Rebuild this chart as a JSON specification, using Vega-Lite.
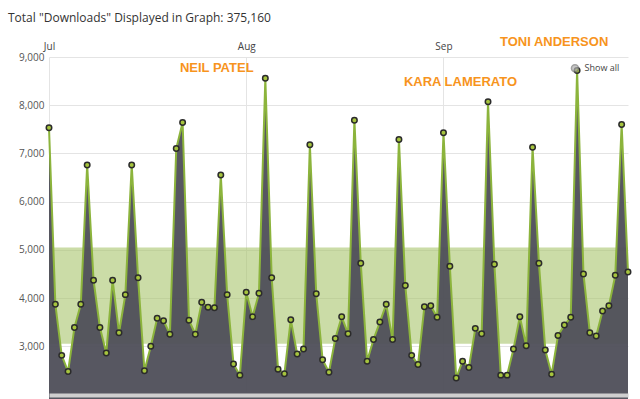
{
  "$schema": "https://vega.github.io/schema/vega-lite/v6.json",
  "width": 579,
  "height": 335,
  "autosize": {"type": "none"},
  "padding": {"left": 49, "top": 57, "right": 12, "bottom": 7},
  "background": "white",
  "title": {
    "text": "Total \"Downloads\" Displayed in Graph: 375,160",
    "anchor": "start",
    "frame": "group",
    "dx": -41,
    "offset": 11,
    "font": "Open Sans",
    "fontSize": 12,
    "fontWeight": "normal",
    "color": "#333333"
  },
  "config": {"view": {"stroke": null}, "font": "Open Sans"},
  "datasets": {
    "downloads": [
      {"date": "2015-07-01T00:00:00", "downloads": 7530},
      {"date": "2015-07-02T00:00:00", "downloads": 3870},
      {"date": "2015-07-03T00:00:00", "downloads": 2810},
      {"date": "2015-07-04T00:00:00", "downloads": 2475},
      {"date": "2015-07-05T00:00:00", "downloads": 3390},
      {"date": "2015-07-06T00:00:00", "downloads": 3870},
      {"date": "2015-07-07T00:00:00", "downloads": 6760},
      {"date": "2015-07-08T00:00:00", "downloads": 4370},
      {"date": "2015-07-09T00:00:00", "downloads": 3390},
      {"date": "2015-07-10T00:00:00", "downloads": 2860},
      {"date": "2015-07-11T00:00:00", "downloads": 4370},
      {"date": "2015-07-12T00:00:00", "downloads": 3280},
      {"date": "2015-07-13T00:00:00", "downloads": 4070},
      {"date": "2015-07-14T00:00:00", "downloads": 6760},
      {"date": "2015-07-15T00:00:00", "downloads": 4420},
      {"date": "2015-07-16T00:00:00", "downloads": 2490},
      {"date": "2015-07-17T00:00:00", "downloads": 3000},
      {"date": "2015-07-18T00:00:00", "downloads": 3580},
      {"date": "2015-07-19T00:00:00", "downloads": 3530},
      {"date": "2015-07-20T00:00:00", "downloads": 3250},
      {"date": "2015-07-21T00:00:00", "downloads": 7100},
      {"date": "2015-07-22T00:00:00", "downloads": 7640},
      {"date": "2015-07-23T00:00:00", "downloads": 3540},
      {"date": "2015-07-24T00:00:00", "downloads": 3250},
      {"date": "2015-07-25T00:00:00", "downloads": 3910},
      {"date": "2015-07-26T00:00:00", "downloads": 3810},
      {"date": "2015-07-27T00:00:00", "downloads": 3800},
      {"date": "2015-07-28T00:00:00", "downloads": 6550},
      {"date": "2015-07-29T00:00:00", "downloads": 4070},
      {"date": "2015-07-30T00:00:00", "downloads": 2630},
      {"date": "2015-07-31T00:00:00", "downloads": 2400},
      {"date": "2015-08-01T00:00:00", "downloads": 4120},
      {"date": "2015-08-02T00:00:00", "downloads": 3610},
      {"date": "2015-08-03T00:00:00", "downloads": 4100},
      {"date": "2015-08-04T00:00:00", "downloads": 8560},
      {"date": "2015-08-05T00:00:00", "downloads": 4420},
      {"date": "2015-08-06T00:00:00", "downloads": 2520},
      {"date": "2015-08-07T00:00:00", "downloads": 2430},
      {"date": "2015-08-08T00:00:00", "downloads": 3550},
      {"date": "2015-08-09T00:00:00", "downloads": 2840},
      {"date": "2015-08-10T00:00:00", "downloads": 2940},
      {"date": "2015-08-11T00:00:00", "downloads": 7180},
      {"date": "2015-08-12T00:00:00", "downloads": 4090},
      {"date": "2015-08-13T00:00:00", "downloads": 2720},
      {"date": "2015-08-14T00:00:00", "downloads": 2460},
      {"date": "2015-08-15T00:00:00", "downloads": 3160},
      {"date": "2015-08-16T00:00:00", "downloads": 3610},
      {"date": "2015-08-17T00:00:00", "downloads": 3260},
      {"date": "2015-08-18T00:00:00", "downloads": 7690},
      {"date": "2015-08-19T00:00:00", "downloads": 4720},
      {"date": "2015-08-20T00:00:00", "downloads": 2690},
      {"date": "2015-08-21T00:00:00", "downloads": 3140},
      {"date": "2015-08-22T00:00:00", "downloads": 3500},
      {"date": "2015-08-23T00:00:00", "downloads": 3870},
      {"date": "2015-08-24T00:00:00", "downloads": 3140},
      {"date": "2015-08-25T00:00:00", "downloads": 7290},
      {"date": "2015-08-26T00:00:00", "downloads": 4260},
      {"date": "2015-08-27T00:00:00", "downloads": 2810},
      {"date": "2015-08-28T00:00:00", "downloads": 2620},
      {"date": "2015-08-29T00:00:00", "downloads": 3820},
      {"date": "2015-08-30T00:00:00", "downloads": 3840},
      {"date": "2015-08-31T00:00:00", "downloads": 3600},
      {"date": "2015-09-01T00:00:00", "downloads": 7430},
      {"date": "2015-09-02T00:00:00", "downloads": 4660},
      {"date": "2015-09-03T00:00:00", "downloads": 2340},
      {"date": "2015-09-04T00:00:00", "downloads": 2690},
      {"date": "2015-09-05T00:00:00", "downloads": 2560},
      {"date": "2015-09-06T00:00:00", "downloads": 3370},
      {"date": "2015-09-07T00:00:00", "downloads": 3260},
      {"date": "2015-09-08T00:00:00", "downloads": 8070},
      {"date": "2015-09-09T00:00:00", "downloads": 4700},
      {"date": "2015-09-10T00:00:00", "downloads": 2400},
      {"date": "2015-09-11T00:00:00", "downloads": 2400},
      {"date": "2015-09-12T00:00:00", "downloads": 2940},
      {"date": "2015-09-13T00:00:00", "downloads": 3610},
      {"date": "2015-09-14T00:00:00", "downloads": 3010},
      {"date": "2015-09-15T00:00:00", "downloads": 7130},
      {"date": "2015-09-16T00:00:00", "downloads": 4720},
      {"date": "2015-09-17T00:00:00", "downloads": 2920},
      {"date": "2015-09-18T00:00:00", "downloads": 2420},
      {"date": "2015-09-19T00:00:00", "downloads": 3220},
      {"date": "2015-09-20T00:00:00", "downloads": 3440},
      {"date": "2015-09-21T00:00:00", "downloads": 3600},
      {"date": "2015-09-22T00:00:00", "downloads": 8720},
      {"date": "2015-09-23T00:00:00", "downloads": 4500},
      {"date": "2015-09-24T00:00:00", "downloads": 3280},
      {"date": "2015-09-25T00:00:00", "downloads": 3210},
      {"date": "2015-09-26T00:00:00", "downloads": 3730},
      {"date": "2015-09-27T00:00:00", "downloads": 3840},
      {"date": "2015-09-28T00:00:00", "downloads": 4470},
      {"date": "2015-09-29T00:00:00", "downloads": 7600},
      {"date": "2015-09-30T00:00:00", "downloads": 4540}
    ],
    "notes": [
      {"date": "2015-07-27T08:40:00", "downloads": 8780, "label": "NEIL PATEL"},
      {"date": "2015-09-03T16:00:00", "downloads": 8490, "label": "KARA LAMERATO"},
      {"date": "2015-09-18T09:20:00", "downloads": 9310, "label": "TONI ANDERSON"}
    ],
    "legend": [
      {"icon": "2015-09-21T16:00:00", "date": "2015-09-23T04:00:00", "downloads": 8765, "label": "Show all"}
    ],
    "band": [
      {"low": 3050, "high": 5050}
    ]
  },
  "resolve": {"axis": {"x": "independent"}},
  "layer": [
    {
      "data": {"name": "band"},
      "mark": {"type": "rect", "color": "#a9c46c", "opacity": 0.6},
      "encoding": {
        "y": {"field": "low", "type": "quantitative", "scale": {"domain": [2050, 9000], "nice": false, "zero": false}},
        "y2": {"field": "high"}
      }
    },
    {
      "data": {"name": "downloads"},
      "mark": {"type": "area", "color": "#4e4e58", "opacity": 0.95},
      "encoding": {
        "x": {
          "field": "date", "type": "temporal",
          "scale": {"domain": ["2015-07-01T00:00:00", "2015-09-30T00:00:00"]},
          "axis": {
            "orient": "top", "format": "%b", "tickCount": {"interval": "month", "step": 1},
            "ticks": false, "domain": false, "grid": true, "gridColor": "#e4e4e4",
            "labelColor": "#444444", "labelFontSize": 10, "labelFont": "Open Sans",
            "labelPadding": 6, "labelFlush": false, "title": null
          }
        },
        "y": {
          "field": "downloads", "type": "quantitative",
          "scale": {"domain": [2050, 9000], "nice": false, "zero": false},
          "axis": {
            "values": [3000, 4000, 5000, 6000, 7000, 8000, 9000], "format": ",d",
            "labelFont": "Open Sans", "labelFontSize": 10, "labelColor": "#555555",
            "ticks": false, "domain": false, "gridColor": "#e4e4e4", "labelPadding": 5, "title": null
          }
        }
      }
    },
    {
      "data": {"name": "downloads"},
      "mark": {"type": "line", "color": "#8cb43c", "strokeWidth": 2},
      "encoding": {
        "x": {
          "field": "date", "type": "temporal",
          "axis": {"orient": "bottom", "labels": false, "ticks": false, "grid": false, "domain": true, "domainColor": "#cfcfcf", "domainWidth": 4, "offset": 3, "title": null, "zindex": 2}
        },
        "y": {"field": "downloads", "type": "quantitative"}
      }
    },
    {
      "data": {"name": "downloads"},
      "mark": {"type": "point", "filled": true, "fill": "#a6c43e", "stroke": "#2b2b2b", "strokeWidth": 1.5, "size": 30, "opacity": 1},
      "encoding": {
        "x": {"field": "date", "type": "temporal", "axis": null},
        "y": {"field": "downloads", "type": "quantitative"}
      }
    },
    {
      "data": {"name": "notes"},
      "mark": {"type": "text", "font": "Liberation Sans", "fontWeight": "bold", "fontSize": 13, "color": "#f7941d", "align": "center", "baseline": "middle"},
      "encoding": {
        "x": {"field": "date", "type": "temporal", "axis": null},
        "y": {"field": "downloads", "type": "quantitative"},
        "text": {"field": "label"}
      }
    },
    {
      "data": {"name": "legend"},
      "mark": {"type": "point", "shape": "circle", "filled": true, "fill": "#b0b0b0", "stroke": "#7a7a7a", "strokeWidth": 1.5, "size": 50},
      "encoding": {
        "x": {"field": "icon", "type": "temporal", "axis": null},
        "y": {"field": "downloads", "type": "quantitative"}
      }
    },
    {
      "data": {"name": "legend"},
      "mark": {"type": "text", "font": "Open Sans", "fontSize": 9, "color": "#444444", "align": "left", "baseline": "middle"},
      "encoding": {
        "x": {"field": "date", "type": "temporal", "axis": null},
        "y": {"field": "downloads", "type": "quantitative"},
        "text": {"field": "label"}
      }
    }
  ]
}
